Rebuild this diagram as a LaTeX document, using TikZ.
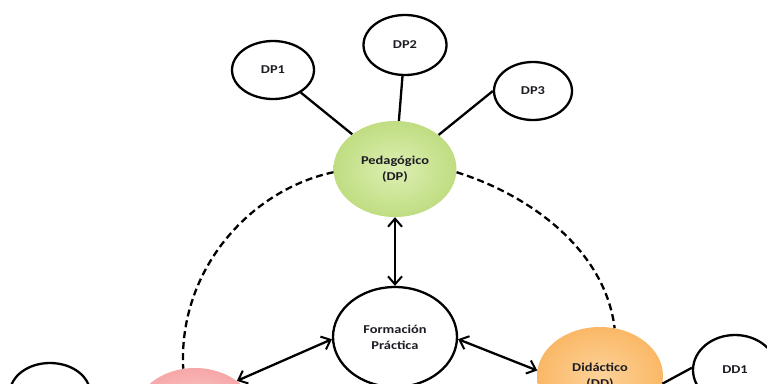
\documentclass[tikz,border=0pt]{standalone}
\usepackage{fontspec}
\newfontfamily\lblfont[FakeStretch=1.2]{Carlito}
\usetikzlibrary{shapes.geometric,arrows.meta}
\definecolor{greenin}{HTML}{DCEFB2}
\definecolor{greenout}{HTML}{C0DD82}
\definecolor{orangein}{HTML}{FDD29A}
\definecolor{orangeout}{HTML}{FAB866}
\definecolor{pinkin}{HTML}{FDD3D3}
\definecolor{pinkout}{HTML}{F7A7A7}
\definecolor{txt}{HTML}{1C1C24}
\tikzset{
  base/.style={ellipse, inner sep=0pt, align=center, text=txt,
    font=\lblfont\bfseries\fontsize{12}{16}\selectfont},
  plain/.style={base, draw=black, line width=2.3pt, fill=white},
  ball/.style={base, shading=radial},
  conn/.style={line width=2.3pt, draw=black},
  dconn/.style={conn, dash pattern=on 7pt off 4pt},
  arr/.style={conn, {Straight Barb[length=8pt,width=14pt,line width=2pt]}-{Straight Barb[length=8pt,width=14pt,line width=2pt]}}
}
\begin{document}
\begin{tikzpicture}[x=1pt,y=-1pt]
\clip (0,0) rectangle (767,383);
\fill[white] (0,0) rectangle (767,383);
% top nodes
\node[plain, minimum width=82pt, minimum height=58pt] (dp1) at (273,70) {DP1};
\node[plain, minimum width=83pt, minimum height=60pt] (dp2) at (405,45) {DP2};
\node[plain, minimum width=78pt, minimum height=58pt] (dp3) at (533,91) {DP3};
\node[ball, inner color=greenin, outer color=greenout, minimum width=123pt, minimum height=96pt] (ped) at (395,169) {Pedagógico\\(DP)};
% middle
\node[plain, minimum width=124pt, minimum height=100pt] (form) at (395,337) {Formación\\Práctica};
% bottom nodes
\node[ball, inner color=pinkin, outer color=pinkout, minimum width=122pt, minimum height=96pt] (pink) at (195,416) {};
\node[plain, minimum width=80pt, minimum height=60pt] (left) at (50,393) {};
\node[ball, inner color=orangein, outer color=orangeout, minimum width=126pt, minimum height=98pt] (did) at (600,376) {Didáctico\\(DD)};
\node[plain, minimum width=84pt, minimum height=70pt] (dd1) at (735,370) {DD1};
% connectors
\draw[conn] (dp1) -- (ped);
\draw[conn] (dp2) -- (ped);
\draw[conn] (dp3.180) -- (ped.38);
\draw[conn] (did.353) -- (dd1.177);
\draw[arr] (ped) -- (form);
\draw[arr] (form.182) -- (pink.40);
\draw[arr] (form.358) -- (did.175);
\draw[dconn] (ped.183) .. controls (250,190) and (178,270) .. (pink.104);
\draw[dconn] (ped.357) .. controls (530,195) and (605,250) .. (did.73);
\end{tikzpicture}
\end{document}
